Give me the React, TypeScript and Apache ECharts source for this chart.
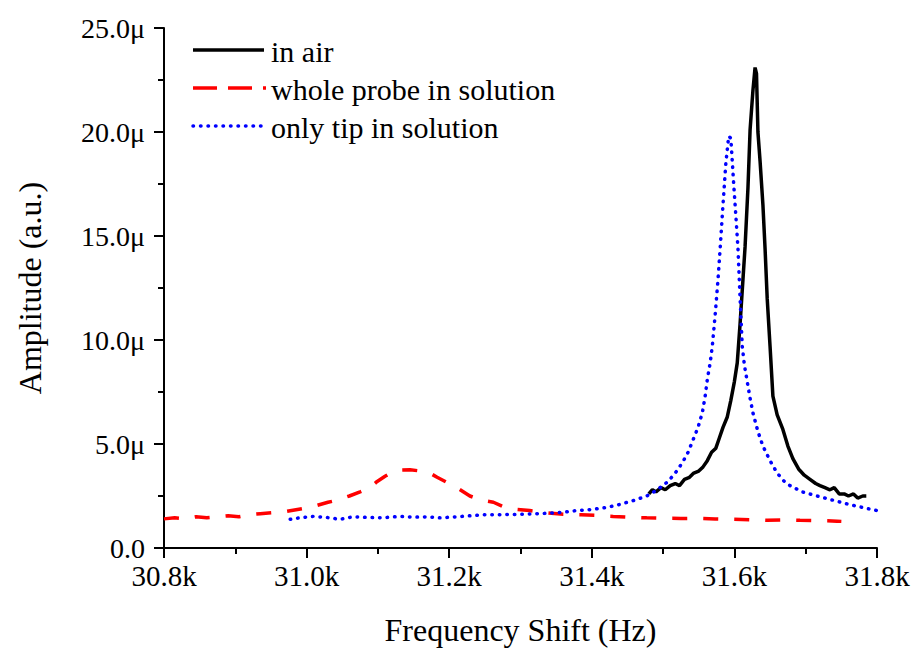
import React, { useEffect, useRef } from "react";
import * as echarts from "echarts";

const airFreq = [31480, 31485, 31490, 31497, 31503, 31510, 31517, 31523, 31530, 31537, 31543, 31550, 31556, 31562, 31568, 31574, 31579, 31584, 31590, 31595, 31600, 31604, 31608, 31612, 31615, 31619, 31622, 31626, 31629, 31631, 31633, 31636, 31640, 31643, 31646, 31650, 31654, 31660, 31668, 31675, 31682, 31690, 31698, 31706, 31714, 31720, 31727, 31734, 31740, 31747, 31754, 31760, 31767, 31773, 31780, 31785];
const airAmp = [2.6, 2.8, 2.7, 2.9, 2.8, 3.0, 3.1, 3.0, 3.3, 3.4, 3.6, 3.7, 3.9, 4.2, 4.6, 4.8, 5.3, 5.8, 6.3, 7.1, 8.0, 8.9, 10.8, 12.9, 14.5, 17.3, 20.1, 22.0, 23.1, 22.8, 20.0, 18.6, 16.5, 14.4, 12.0, 9.7, 7.3, 6.4, 5.7, 4.9, 4.3, 3.8, 3.5, 3.3, 3.1, 3.0, 2.9, 2.8, 2.9, 2.6, 2.6, 2.5, 2.6, 2.4, 2.5, 2.5];

const wholeFreq = [30800, 30815, 30830, 30845, 30860, 30875, 30890, 30905, 30920, 30935, 30953, 30970, 30995, 31015, 31030, 31043, 31060, 31075, 31089, 31099, 31110, 31120, 31131, 31145, 31160, 31173, 31183, 31197, 31211, 31229, 31245, 31262, 31278, 31295, 31313, 31335, 31360, 31385, 31407, 31430, 31454, 31477, 31500, 31525, 31548, 31573, 31598, 31622, 31646, 31670, 31692, 31718, 31744, 31750];
const wholeAmp = [1.4, 1.45, 1.4, 1.5, 1.45, 1.5, 1.55, 1.5, 1.6, 1.65, 1.7, 1.75, 1.9, 2.05, 2.2, 2.3, 2.5, 2.7, 2.9, 3.2, 3.45, 3.65, 3.75, 3.76, 3.7, 3.6, 3.4, 3.15, 2.9, 2.5, 2.3, 2.2, 1.95, 1.85, 1.8, 1.7, 1.62, 1.6, 1.57, 1.52, 1.48, 1.45, 1.43, 1.42, 1.43, 1.4, 1.38, 1.36, 1.33, 1.35, 1.33, 1.32, 1.29, 1.28];

const tipFreq = [30977, 30990, 31009, 31028, 31047, 31065, 31085, 31105, 31131, 31150, 31170, 31187, 31210, 31230, 31248, 31270, 31303, 31337, 31360, 31379, 31400, 31421, 31440, 31460, 31477, 31492, 31507, 31517, 31527, 31535, 31542, 31549, 31555, 31559, 31562, 31566, 31569, 31573, 31577, 31580, 31584, 31588, 31592, 31595, 31599, 31602, 31605, 31608, 31611, 31614, 31618, 31622, 31626, 31633, 31640, 31650, 31660, 31670, 31678, 31695, 31716, 31738, 31760, 31786, 31800];
const tipAmp = [1.38, 1.45, 1.52, 1.47, 1.38, 1.5, 1.47, 1.45, 1.52, 1.48, 1.5, 1.45, 1.5, 1.55, 1.6, 1.6, 1.62, 1.67, 1.72, 1.8, 1.85, 1.95, 2.1, 2.3, 2.5, 2.8, 3.2, 3.6, 4.1, 4.6, 5.2, 5.8, 6.5, 7.3, 8.1, 8.9, 9.7, 11.2, 12.9, 14.4, 16.5, 18.5, 19.8, 19.7, 17.5, 16.0, 14.4, 12.0, 9.7, 8.8, 8.0, 7.2, 6.5, 5.6, 4.9, 4.2, 3.6, 3.2, 3.0, 2.7, 2.5, 2.3, 2.1, 1.9, 1.8];

const seriesNames = ["in air", "whole probe in solution", "only tip in solution"];

const FONT = "'Liberation Serif', 'Times New Roman', 'DejaVu Serif', serif";
const COLORS = ["#000000", "#ff0000", "#0000ff"];

const zip = (a: number[], b: number[]) => a.map((v, i) => [v, b[i]]);

export default function App() {
  const ref = useRef<HTMLDivElement>(null);
  useEffect(() => {
    if (!ref.current) return;
    const chart = echarts.init(ref.current, null, { renderer: "svg" });

    const lineStyles = [
      { stroke: COLORS[0], lineWidth: 3.5 },
      { stroke: COLORS[1], lineWidth: 3.5, lineDash: [24, 11] },
      { stroke: COLORS[2], lineWidth: 3.5, lineDash: [0.5, 7], lineCap: "round" },
    ];
    const rowY = [50, 88, 126];
    const legendGraphics: any[] = [];
    seriesNames.forEach((name, i) => {
      legendGraphics.push({
        type: "line",
        shape: { x1: 193, y1: rowY[i], x2: i === 1 ? 266 : 264, y2: rowY[i] },
        style: lineStyles[i],
        silent: true,
      });
      legendGraphics.push({
        type: "text",
        x: 271,
        y: rowY[i] + 1,
        style: {
          text: name,
          font: `30px ${FONT}`,
          fill: "#000",
          verticalAlign: "middle",
          align: "left",
        },
        silent: true,
      });
    });

    chart.setOption({
      animation: false,
      backgroundColor: "#ffffff",
      grid: { left: 164, right: 37, top: 28, bottom: 98, containLabel: false },
      graphic: legendGraphics,
      xAxis: {
        type: "value",
        min: 30800,
        max: 31800,
        interval: 200,
        name: "Frequency Shift (Hz)",
        nameLocation: "middle",
        nameGap: 66,
        nameTextStyle: { fontFamily: FONT, fontSize: 32, color: "#000" },
        axisLine: { show: true, onZero: false, lineStyle: { color: "#000", width: 2 } },
        axisTick: { show: true, inside: false, length: 10, lineStyle: { color: "#000", width: 2 } },
        minorTick: { show: true, splitNumber: 2, length: 6, lineStyle: { color: "#000", width: 2 } },
        axisLabel: {
          fontFamily: FONT,
          fontSize: 29,
          color: "#000",
          margin: 13,
          formatter: (v: number) => (v / 1000).toFixed(1) + "k",
        },
        splitLine: { show: false },
      },
      yAxis: {
        type: "value",
        min: 0,
        max: 25,
        interval: 5,
        name: "Amplitude (a.u.)",
        nameLocation: "middle",
        nameGap: 118,
        nameTextStyle: { fontFamily: FONT, fontSize: 32, color: "#000" },
        axisLine: { show: true, lineStyle: { color: "#000", width: 2 } },
        axisTick: { show: true, inside: false, length: 10, lineStyle: { color: "#000", width: 2 } },
        minorTick: { show: true, splitNumber: 2, length: 6, lineStyle: { color: "#000", width: 2 } },
        axisLabel: {
          fontFamily: FONT,
          fontSize: 28,
          color: "#000",
          margin: 19,
          formatter: (v: number) => (v === 0 ? "0.0" : v.toFixed(1) + "μ"),
        },
        splitLine: { show: false },
      },
      series: [
        {
          name: seriesNames[0],
          type: "line",
          data: zip(airFreq, airAmp),
          showSymbol: false,
          symbol: "none",
          color: COLORS[0],
          lineStyle: { color: COLORS[0], width: 3.5 },
          z: 3,
        },
        {
          name: seriesNames[1],
          type: "line",
          data: zip(wholeFreq, wholeAmp),
          showSymbol: false,
          symbol: "none",
          color: COLORS[1],
          lineStyle: { color: COLORS[1], width: 3.5, type: [15, 16] },
          z: 2,
        },
        {
          name: seriesNames[2],
          type: "line",
          data: zip(tipFreq, tipAmp),
          showSymbol: false,
          symbol: "none",
          color: COLORS[2],
          lineStyle: { color: COLORS[2], width: 3.5, type: [0.5, 7], cap: "round" },
          z: 4,
        },
      ],
    });
    return () => chart.dispose();
  }, []);
  return (
    <div
      ref={ref}
      style={{ position: "absolute", left: 0, top: 0, width: 914, height: 651 }}
    />
  );
}
